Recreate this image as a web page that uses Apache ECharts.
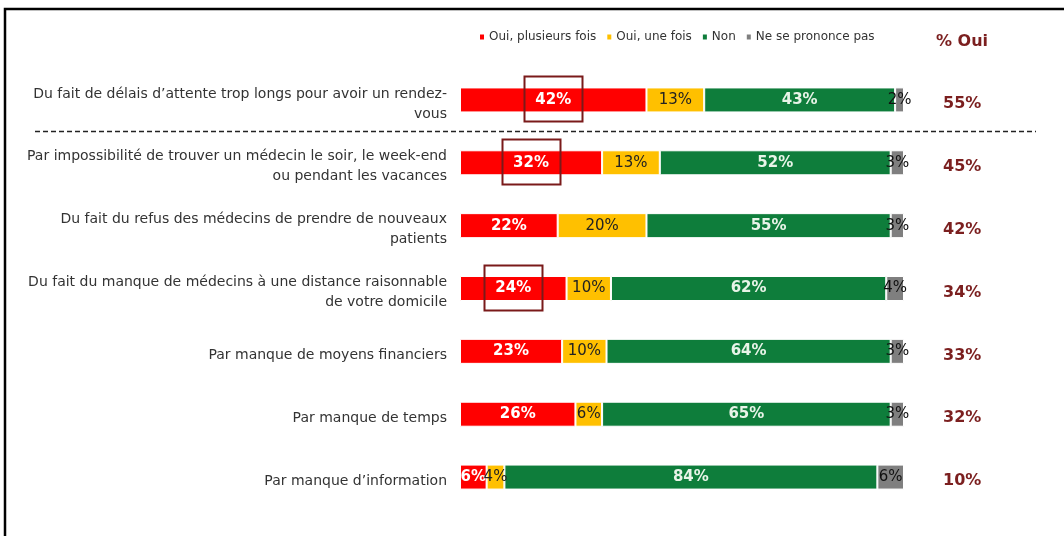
<!DOCTYPE html>
<html><head><meta charset="utf-8">
<script src="https://cdn.jsdelivr.net/npm/echarts@6/dist/echarts.min.js"></script>
<style>html,body{margin:0;padding:0;background:#fff}#c{width:1064px;height:536px}</style>
</head><body><div id="c"></div>
<script>
const categories = [
  "Du fait de délais d\u2019attente trop longs pour avoir un rendez-\nvous",
  "Par impossibilité de trouver un médecin le soir, le week-end\nou pendant les vacances",
  "Du fait du refus des médecins de prendre de nouveaux\npatients",
  "Du fait du manque de médecins à une distance raisonnable\nde votre domicile",
  "Par manque de moyens financiers",
  "Par manque de temps",
  "Par manque d\u2019information"
];
const seriesNames = ["Oui, plusieurs fois", "Oui, une fois", "Non", "Ne se prononce pas"];
const ouiPlusieurs = [42, 32, 22, 24, 23, 26, 6];
const ouiUne = [13, 13, 20, 10, 10, 6, 4];
const non = [43, 52, 55, 62, 64, 65, 84];
const nsp = [2, 3, 3, 4, 3, 3, 6];
const pctOui = [55, 45, 42, 34, 33, 32, 10];
const highlighted = [0, 1, 3];

const FONT = "DejaVu Sans";
const colors = ["#ff0000", "#ffc000", "#0e7d3b", "#7f7f7f"];
const labelColors = ["#ffffff", "#222222", "#e8f4e8", "#111111"];
const values = [ouiPlusieurs, ouiUne, non, nsp];
const totals = ouiPlusieurs.map((v, i) => v + ouiUne[i] + non[i] + nsp[i]);

const chart = echarts.init(document.getElementById('c'), null, {renderer: 'canvas'});
const series = values.map((arr, k) => ({
  name: seriesNames[k], type: 'bar', stack: 'tot', data: arr, barWidth: 25, barGap: '-100%',
  itemStyle: {color: colors[k], borderColor: '#ffffff', borderWidth: 1},
  label: {show: true, position: 'inside', formatter: '{c}%', color: labelColors[k],
    fontFamily: FONT, fontSize: 15, fontWeight: k === 0 || k === 2 ? 'bold' : 'normal'},
  emphasis: {disabled: true}, silent: true
}));
series.push({
  name: '% Oui', type: 'bar', data: totals, barWidth: 25, barGap: '-100%', z: 1,
  itemStyle: {color: 'rgba(0,0,0,0)'},
  label: {show: true, position: 'right', distance: 39, offset: [0, 4],
    formatter: p => pctOui[p.dataIndex] + '%', color: '#7b1f1f',
    fontFamily: FONT, fontSize: 16, fontWeight: 'bold'},
  silent: true, emphasis: {disabled: true}
});

chart.setOption({
  animation: false,
  backgroundColor: '#ffffff',
  legend: {
    data: seriesNames, left: 478, top: 31, itemWidth: 6, itemHeight: 7, itemGap: 9,
    icon: 'rect', textStyle: {fontFamily: FONT, fontSize: 12, color: '#333', padding: [0, 0, 0, -1]}, padding: 0
  },
  grid: [
    {left: 460, right: 160, top: 68.5, bottom: 27.5},
    {left: 460, right: 160, top: 72.5, bottom: 23.5}
  ],
  xAxis: [
    {type: 'value', min: 0, max: 100, show: false, gridIndex: 0},
    {type: 'value', min: 0, max: 100, show: false, gridIndex: 1}
  ],
  yAxis: [
    {type: 'category', data: categories, inverse: true, gridIndex: 0, show: false},
    {
      type: 'category', data: categories, inverse: true, gridIndex: 1,
      axisLine: {show: false}, axisTick: {show: false},
      axisLabel: {margin: 13, align: 'right', fontFamily: FONT, fontSize: 14, color: '#333', lineHeight: 20}
    }
  ],
  series: series
});

const g = [];
g.push({type: 'rect', shape: {x: 5, y: 9, width: 1080, height: 560}, style: {fill: null, stroke: '#000', lineWidth: 2.5}, silent: true});
g.push({type: 'text', x: 962, y: 42, style: {text: '% Oui', fill: '#7b1f1f', font: 'bold 16px ' + FONT, textAlign: 'center', textVerticalAlign: 'middle'}});
const p0 = chart.convertToPixel({gridIndex: 0}, [0, 0]);
const p1 = chart.convertToPixel({gridIndex: 0}, [0, 1]);
const ySep = Math.round((p0[1] + p1[1]) / 2) + 0.5;
g.push({type: 'line', shape: {x1: 35, y1: ySep, x2: 1036, y2: ySep}, style: {stroke: '#222', lineWidth: 1.3, lineDash: [5, 3]}, silent: true});
highlighted.forEach(i => {
  const c = chart.convertToPixel({gridIndex: 0}, [ouiPlusieurs[i] / 2, i]);
  g.push({type: 'rect', shape: {x: Math.round(c[0] - 29) + 0.5, y: Math.round(c[1] - 24) + 0.5, width: 58, height: 45},
    style: {fill: null, stroke: '#7a1a1a', lineWidth: 2}, z: 100, silent: true});
});
chart.setOption({graphic: g});
</script></body></html>
